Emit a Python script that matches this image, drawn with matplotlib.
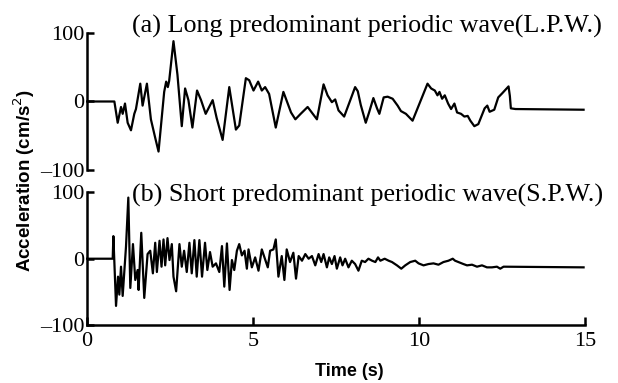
import matplotlib.pyplot as plt

t_long = [0.0, 0.82, 0.92, 1.02, 1.07, 1.14, 1.22, 1.32, 1.42, 1.47, 1.60, 1.67, 1.80,
          1.92, 2.05, 2.15, 2.32, 2.38, 2.43, 2.47, 2.60, 2.72, 2.85, 2.95, 3.05, 3.17,
          3.31, 3.43, 3.57, 3.78, 3.90, 4.08, 4.28, 4.48, 4.58, 4.78, 4.88, 5.01, 5.15,
          5.26, 5.36, 5.48, 5.68, 5.91, 6.14, 6.27, 6.43, 6.64, 6.92, 7.12, 7.24, 7.37,
          7.47, 7.57, 7.74, 7.94, 8.07, 8.15, 8.24, 8.39, 8.49, 8.62, 8.73, 8.80, 8.93,
          9.05, 9.20, 9.35, 9.45, 9.60, 9.80, 10.05, 10.25, 10.36, 10.47, 10.55, 10.61,
          10.69, 10.77, 10.87, 10.96, 11.06, 11.14, 11.26, 11.36, 11.46, 11.54, 11.66,
          11.78, 11.97, 12.05, 12.12, 12.26, 12.38, 12.50, 12.69, 12.73, 12.76, 12.90,
          14.95]
a_long = [0, 0, -31, -8, -18, -3, -31, -42, -18, -11, 26, -6, 26,
          -26, -53, -73, 14, 29, 21, 30, 88, 39, -36, 19, 2, -38,
          16, 2, -18, 2, -24, -56, 21, -41, -35, 34, 31, 16, 29,
          16, 21, 11, -38, 14, -16, -26, -18, -8, -26, 25, 9, -1,
          3, -13, -22, 4, 21, 15, -5, -31, -16, 5, -10, -18, 6,
          7, 4, -6, -14, -18, -28, 2, 26, 19, 16, 9, 14,
          4, 9, -3, -11, -3, -16, -18, -22, -21, -28, -36,
          -33, -10, -6, -15, -12, 6, 12, 22, 8, -10, -11,
          -12]

# (b) short predominant periodic wave
t_short = [0.0, 0.77, 0.79, 0.87, 0.93, 0.97, 1.02, 1.07, 1.17, 1.24, 1.30, 1.38, 1.45,
           1.52, 1.55, 1.63, 1.72, 1.82, 1.90, 1.98, 2.05, 2.10, 2.18, 2.24, 2.30, 2.35,
           2.42, 2.48, 2.55, 2.60, 2.68, 2.78, 2.85, 2.92, 3.00, 3.08, 3.15, 3.23, 3.30,
           3.38, 3.46, 3.55, 3.62, 3.70, 3.78, 3.88, 3.98, 4.06, 4.13, 4.21, 4.29, 4.36,
           4.43, 4.51, 4.58, 4.66, 4.74, 4.81, 4.86, 4.96, 5.06, 5.16, 5.26, 5.34, 5.44,
           5.51, 5.61, 5.68, 5.76, 5.86, 5.94, 6.01, 6.11, 6.21, 6.29, 6.37, 6.47, 6.57,
           6.67, 6.77, 6.87, 6.97, 7.05, 7.12, 7.22, 7.29, 7.37, 7.45, 7.52, 7.62, 7.69,
           7.77, 7.87, 7.97, 8.07, 8.17, 8.27, 8.37, 8.47, 8.58, 8.68, 8.76, 8.83, 8.96,
           9.08, 9.18, 9.33, 9.46, 9.58, 9.73, 9.88, 9.98, 10.13, 10.28, 10.43, 10.58,
           10.73, 10.88, 11.01, 11.08, 11.18, 11.33, 11.44, 11.59, 11.74, 11.89, 12.04,
           12.19, 12.34, 12.44, 12.54, 14.95]
a_short = [0, 0, 34, -71, -27, -54, -12, -56, 18, 92, -44, 22, -32,
           -17, -47, 39, -59, 7, 12, -22, 24, -20, 27, -12, 29, -10,
           31, -2, 22, -27, -49, 22, -12, 12, -20, 24, -22, 28, -27,
           28, -27, 24, -17, 10, -12, -7, -20, 19, -42, 23, -47, -2,
           -17, 12, 22, 5, 12, -15, 14, -13, 2, -18, 14, 2, -13,
           12, 14, 29, -27, 4, -32, 14, -5, 9, -30, 4, -3, 7,
           0, 4, -10, 7, -5, 7, -13, 2, -8, 4, -15, 2, -10,
           0, -13, -3, -8, -18, -3, -5, 0, -3, -5, 2, -3, 0,
           -3, -5, -10, -15, -10, -5, -3, -7, -10, -8, -7, -9,
           -5, -3, 0, -3, -5, -8, -10, -9, -12, -10, -13,
           -13, -12, -15, -12, -13]

titles = ['(a) Long predominant periodic wave(L.P.W.)',
          '(b) Short predominant periodic wave(S.P.W.)']
yticks = [-100, 0, 100]
ytick_labels = ['\u2013100', '0', '100']
xticks = [0, 5, 10, 15]

serif = 'Liberation Serif'
sans = 'Liberation Sans'

fig = plt.figure(figsize=(6.18, 3.83), dpi=100)
ax1 = fig.add_axes([0.141, 0.556, 0.806, 0.358])
ax2 = fig.add_axes([0.141, 0.151, 0.806, 0.347])

for ax, t, a in [(ax1, t_long, a_long), (ax2, t_short, a_short)]:
    ax.plot(t, a, color='black', lw=1.6, clip_on=False)
    ax.set_xlim(0, 15)
    ax.set_ylim(-100, 100)
    ax.set_yticks(yticks)
    ax.set_yticklabels(ytick_labels, fontfamily=serif, fontsize=16)
    ax.spines['top'].set_visible(False)
    ax.spines['right'].set_visible(False)
    ax.spines['left'].set_linewidth(1.8)
    ax.spines['bottom'].set_linewidth(1.8)
    ax.tick_params(axis='y', direction='in', length=5, width=1.8, pad=2)
    ax.tick_params(axis='x', direction='in', length=6, width=1.8, pad=5)

ax1.spines['bottom'].set_visible(False)
ax1.set_xticks([])

ax2.set_xticks(xticks)
ax2.set_xticklabels([str(v) for v in xticks], fontfamily=serif, fontsize=16)

fig.text(0.214, 0.916, titles[0], fontfamily=serif, fontsize=18.8, va='baseline')
fig.text(0.214, 0.473, titles[1], fontfamily=serif, fontsize=18.8, va='baseline')
fig.text(0.040, 0.530, 'Acceleration (cm/s$^2$)', fontfamily=sans, fontweight='bold',
         fontsize=13.5, rotation=90, ha='center', va='center')
fig.text(0.565, 0.029, 'Time (s)', fontfamily=sans, fontweight='bold',
         fontsize=13, ha='center', va='center')

fig.savefig('out.png', dpi=100)
